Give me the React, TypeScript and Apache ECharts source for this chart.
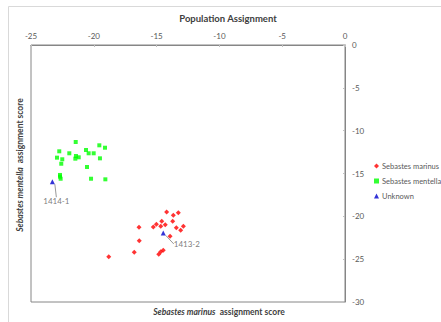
import React, { useEffect, useRef } from "react";
import * as echarts from "echarts";

const chartTitle = "Population Assignment";
const xMin = -25;
const xMax = 0;
const xStep = 5;
const yMin = -30;
const yMax = 0;
const yStep = 5;

const seriesNames = ["Sebastes marinus", "Sebastes mentella", "Unknown"];

const marinus: [number, number][] = [
  [-14.2, -19.49], [-13.27, -19.58], [-13.67, -19.88], [-14.59, -20.58],
  [-13.72, -20.58], [-15.02, -20.93], [-15.26, -21.24], [-14.67, -21.16],
  [-14.31, -20.98], [-16.4, -21.28], [-13.43, -21.33], [-12.87, -21.16],
  [-13.08, -21.63], [-13.93, -22.33], [-16.38, -22.84], [-16.78, -24.2],
  [-14.67, -24.13], [-14.47, -23.96], [-14.83, -24.43], [-18.81, -24.71],
];

const mentella: [number, number][] = [
  [-21.44, -11.32], [-22.75, -12.41], [-21.95, -12.64], [-22.93, -13.15],
  [-22.51, -13.34], [-22.59, -13.86], [-21.42, -12.96], [-21.2, -13.11],
  [-21.47, -13.27], [-20.62, -12.26], [-20.41, -12.64], [-20.01, -12.64],
  [-19.56, -11.71], [-19.11, -11.99], [-19.51, -13.23], [-20.54, -14.24],
  [-22.69, -15.17], [-22.69, -15.37], [-22.64, -15.61], [-20.22, -15.61],
  [-19.08, -15.68],
];

const unknown: [number, number][] = [
  [-23.3, -15.96],
  [-14.47, -21.94],
];
const unknownLabels = ["1414-1", "1413-2"];

const FONT = "Lato, 'Open Sans', sans-serif";
const TICK_COLOR = "#595959";
const AXIS_COLOR = "#868686";

export default function App() {
  const ref = useRef<HTMLDivElement>(null);
  useEffect(() => {
    const chart = echarts.init(ref.current!, null, { renderer: "svg" });
    chart.setOption({
      animation: false,
      backgroundColor: "#ffffff",
      textStyle: { fontFamily: FONT },
      grid: {
        left: 31,
        top: 45,
        width: 314,
        height: 257,
        show: true,
        borderColor: AXIS_COLOR,
        borderWidth: 1,
        containLabel: false,
      },
      xAxis: {
        type: "value",
        position: "top",
        min: xMin,
        max: xMax,
        interval: xStep,
        splitLine: { show: false },
        axisLine: { show: true, lineStyle: { color: AXIS_COLOR, width: 1 } },
        axisTick: { show: true, inside: true, length: 2, lineStyle: { color: "#bfbfbf" } },
        axisLabel: { color: TICK_COLOR, fontSize: 8, margin: 5, fontFamily: FONT },
      },
      yAxis: {
        type: "value",
        position: "right",
        min: yMin,
        max: yMax,
        interval: yStep,
        splitLine: { show: false },
        axisLine: { show: true, lineStyle: { color: AXIS_COLOR, width: 1 } },
        axisTick: { show: true, inside: true, length: 2, lineStyle: { color: "#bfbfbf" } },
        axisLabel: { color: TICK_COLOR, fontSize: 8, margin: 7, fontFamily: FONT },
      },
      legend: {
        orient: "vertical",
        left: 369,
        top: 156,
        itemWidth: 5,
        itemHeight: 5,
        itemGap: 5,
        textStyle: { color: TICK_COLOR, fontSize: 7.5, lineHeight: 10, fontFamily: FONT, padding: [0, 0, 0, -2] },
        data: seriesNames,
      },
      series: [
        {
          name: seriesNames[0],
          type: "scatter",
          symbol: "diamond",
          symbolSize: 5,
          itemStyle: { color: "#ff0000" },
          data: marinus,
        },
        {
          name: seriesNames[1],
          type: "scatter",
          symbol: "rect",
          symbolSize: 4,
          itemStyle: { color: "#00ff00" },
          data: mentella,
        },
        {
          name: seriesNames[2],
          type: "scatter",
          symbol: "triangle",
          symbolSize: 5,
          itemStyle: { color: "#0000cc" },
          data: unknown.map((v, i) => ({
            value: v,
            name: unknownLabels[i],
            label: {
              show: true,
              formatter: unknownLabels[i],
              position: i === 0 ? "bottom" : "right",
              distance: 5,
              color: TICK_COLOR,
              fontSize: 8,
              fontFamily: FONT,
            },
          })),
          labelLayout: (params: any) =>
            params.dataIndex === 0 ? { dx: 4, dy: 8 } : { dx: 3, dy: 11 },
          labelLine: { show: true, lineStyle: { color: "#7f7f7f", width: 0.8 } },
        },
      ],
      graphic: [
        {
          type: "rect",
          silent: true,
          z: -10,
          shape: { x: 8.5, y: 6.5, width: 600, height: 600 },
          style: { fill: "none", stroke: "#d9d9d9", lineWidth: 1 },
        },
        {
          type: "text",
          x: 228,
          y: 18,
          style: {
            text: chartTitle,
            fill: "#404040",
            font: `bold 9.5px ${FONT}`,
            textAlign: "center",
            textVerticalAlign: "middle",
          },
        },
        {
          type: "text",
          x: 219,
          y: 312,
          style: {
            text: "{i|Sebastes marinus}{n|  assignment score}",
            textAlign: "center",
            textVerticalAlign: "middle",
            rich: {
              i: { fontStyle: "italic", fontWeight: "bold", fontSize: 8.5, fill: "#404040", fontFamily: FONT },
              n: { fontWeight: "bold", fontSize: 8.5, fill: "#404040", fontFamily: FONT },
            },
          },
        },
        {
          type: "text",
          x: 20,
          y: 165,
          rotation: Math.PI / 2,
          style: {
            text: "{i|Sebastes mentella}{n|  assignment score}",
            textAlign: "center",
            textVerticalAlign: "middle",
            rich: {
              i: { fontStyle: "italic", fontWeight: "bold", fontSize: 8.5, fill: "#404040", fontFamily: FONT },
              n: { fontWeight: "bold", fontSize: 8.5, fill: "#404040", fontFamily: FONT },
            },
          },
        },
      ],
    });
    return () => chart.dispose();
  }, []);
  return (
    <div
      ref={ref}
      style={{ position: "fixed", left: 0, top: 0, width: 441, height: 322 }}
    />
  );
}
